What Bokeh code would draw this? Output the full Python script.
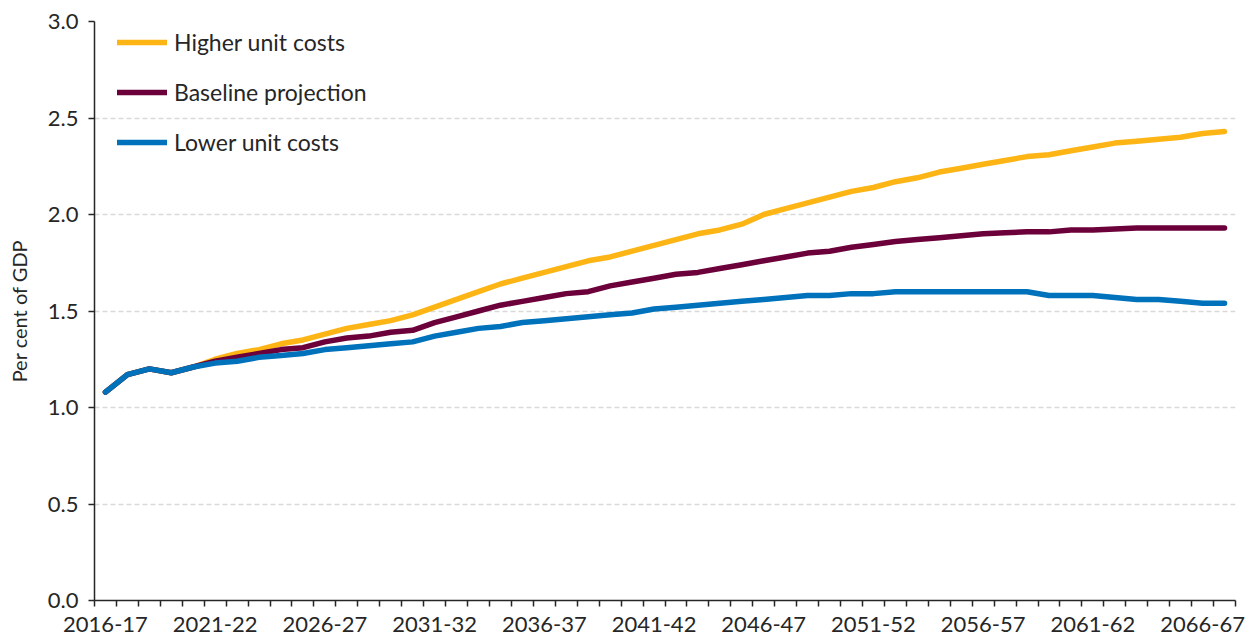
from bokeh.plotting import figure
from bokeh.models import Range1d, FixedTicker, Legend, LegendItem
from bokeh.embed import file_html
from bokeh.resources import INLINE

years = [f"{y}-{str(y + 1)[-2:]}" for y in range(2016, 2068)]

higher = [1.08, 1.17, 1.20, 1.18, 1.21, 1.25, 1.28, 1.30, 1.33, 1.35,
          1.38, 1.41, 1.43, 1.45, 1.48, 1.52, 1.56, 1.60, 1.64, 1.67,
          1.70, 1.73, 1.76, 1.78, 1.81, 1.84, 1.87, 1.90, 1.92, 1.95,
          2.00, 2.03, 2.06, 2.09, 2.12, 2.14, 2.17, 2.19, 2.22, 2.24,
          2.26, 2.28, 2.30, 2.31, 2.33, 2.35, 2.37, 2.38, 2.39, 2.40,
          2.42, 2.43]

baseline = [1.08, 1.17, 1.20, 1.18, 1.21, 1.24, 1.26, 1.28, 1.30, 1.31,
            1.34, 1.36, 1.37, 1.39, 1.40, 1.44, 1.47, 1.50, 1.53, 1.55,
            1.57, 1.59, 1.60, 1.63, 1.65, 1.67, 1.69, 1.70, 1.72, 1.74,
            1.76, 1.78, 1.80, 1.81, 1.83, 1.845, 1.86, 1.87, 1.88, 1.89,
            1.90, 1.905, 1.91, 1.91, 1.92, 1.92, 1.925, 1.93, 1.93, 1.93,
            1.93, 1.93]

lower = [1.08, 1.17, 1.20, 1.18, 1.21, 1.23, 1.24, 1.26, 1.27, 1.28,
         1.30, 1.31, 1.32, 1.33, 1.34, 1.37, 1.39, 1.41, 1.42, 1.44,
         1.45, 1.46, 1.47, 1.48, 1.49, 1.51, 1.52, 1.53, 1.54, 1.55,
         1.56, 1.57, 1.58, 1.58, 1.59, 1.59, 1.60, 1.60, 1.60, 1.60,
         1.60, 1.60, 1.60, 1.58, 1.58, 1.58, 1.57, 1.56, 1.56, 1.55,
         1.54, 1.54]

series_names = ["Higher unit costs", "Baseline projection", "Lower unit costs"]
colors = ["#FDB515", "#6C003A", "#0072BB"]
y_ticks = [0.0, 0.5, 1.0, 1.5, 2.0, 2.5, 3.0]
label_every = 5

FONT = "Lato"
x = list(range(len(years)))

p = figure(width=1248, height=637, output_backend="svg", toolbar_location=None,
           x_range=Range1d(-0.5, len(years) - 0.5), y_range=Range1d(0, 3),
           min_border_left=94, min_border_right=13, min_border_top=21,
           min_border_bottom=37)
p.outline_line_color = None
p.background_fill_color = "white"
p.border_fill_color = "white"

renderers = []
for vals, c in zip([higher, baseline, lower], colors):
    r = p.line(x, vals, line_color=c, line_width=5.5, line_cap="round", line_join="round")
    renderers.append(r)

# x axis
major = [i for i in x if i % label_every == 0]
minor = [i - 0.5 for i in range(len(years) + 1)]
p.xaxis.ticker = FixedTicker(ticks=major, minor_ticks=minor)
p.xaxis.major_label_overrides = {i: years[i] for i in major}
p.xaxis.major_tick_out = 0
p.xaxis.major_tick_in = 0
p.xaxis.minor_tick_out = 6
p.xaxis.minor_tick_in = 0
p.xaxis.minor_tick_line_color = "#262626"
p.xaxis.minor_tick_line_width = 1.5
p.xaxis.axis_line_color = "#262626"
p.xaxis.axis_line_width = 1.5
p.xaxis.major_label_text_font = FONT
p.xaxis.major_label_text_font_size = "22px"
p.xaxis.major_label_text_color = "#262626"
p.xaxis.major_label_standoff = 10
p.xgrid.grid_line_color = None

# y axis
p.yaxis.ticker = FixedTicker(ticks=y_ticks)
p.yaxis.major_label_overrides = {t: f"{t:.1f}" for t in y_ticks}
p.yaxis.minor_tick_line_color = None
p.yaxis.major_tick_out = 6
p.yaxis.major_tick_in = 0
p.yaxis.major_tick_line_color = "#262626"
p.yaxis.major_tick_line_width = 1.5
p.yaxis.axis_line_color = "#262626"
p.yaxis.axis_line_width = 1.5
p.yaxis.major_label_text_font = FONT
p.yaxis.major_label_text_font_size = "22px"
p.yaxis.major_label_text_color = "#262626"
p.yaxis.major_label_standoff = 10
p.yaxis.axis_label = "Per cent of GDP"
p.yaxis.axis_label_text_font = FONT
p.yaxis.axis_label_text_font_size = "20px"
p.yaxis.axis_label_text_font_style = "normal"
p.yaxis.axis_label_text_color = "#262626"
p.yaxis.axis_label_standoff = 14
p.ygrid.grid_line_color = "#D9D9D9"
p.ygrid.grid_line_dash = "5 3"
p.ygrid.grid_line_width = 1.5

legend = Legend(items=[LegendItem(label=n, renderers=[r]) for n, r in zip(series_names, renderers)],
                location=(23, 444), orientation="vertical",
                glyph_width=50, glyph_height=20, label_height=20, label_standoff=7,
                spacing=22, padding=0, margin=0,
                label_text_font=FONT, label_text_font_size="23px",
                label_text_color="#262626",
                background_fill_alpha=0, border_line_color=None)
p.add_layout(legend)

open("out.html", "w").write(file_html(p, INLINE))
